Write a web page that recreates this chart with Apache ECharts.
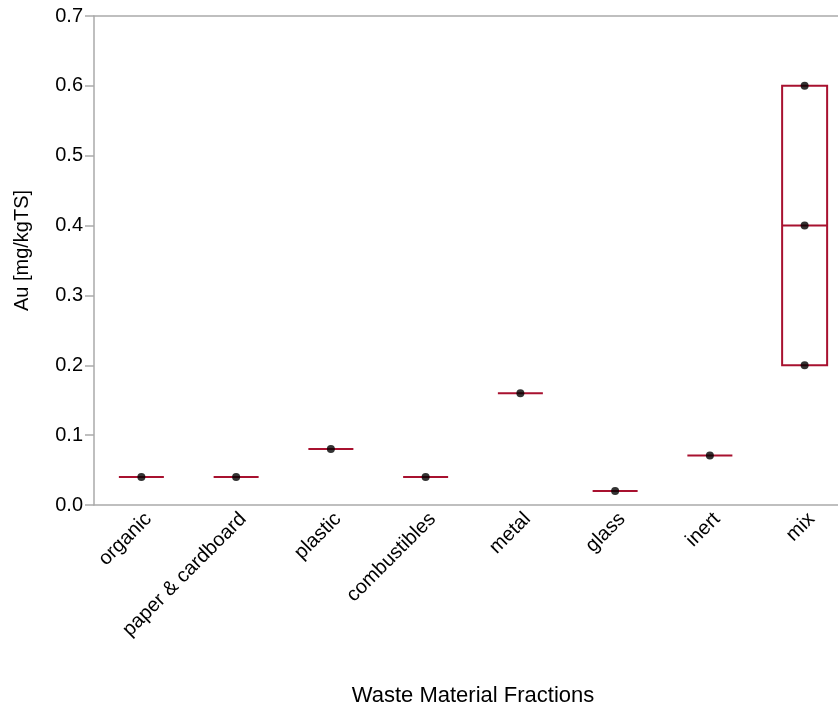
<!DOCTYPE html>
<html>
<head>
<meta charset="utf-8">
<script src="https://cdn.jsdelivr.net/npm/echarts@6/dist/echarts.min.js"></script>
<style>
  html, body { margin: 0; padding: 0; background: #fff; }
  #chart { width: 838px; height: 710px; }
</style>
</head>
<body>
<div id="chart"></div>
<script>
// categories and measured values (mg/kgTS)
const categories = ['organic', 'paper & cardboard', 'plastic', 'combustibles', 'metal', 'glass', 'inert', 'mix'];
const samples = [
  [0.04],
  [0.04],
  [0.08],
  [0.04],
  [0.16],
  [0.02],
  [0.071],
  [0.2, 0.4, 0.6]
];
// box stats: min, q1, median, q3, max
const boxStats = [
  [0.04, 0.04, 0.04, 0.04, 0.04],
  [0.04, 0.04, 0.04, 0.04, 0.04],
  [0.08, 0.08, 0.08, 0.08, 0.08],
  [0.04, 0.04, 0.04, 0.04, 0.04],
  [0.16, 0.16, 0.16, 0.16, 0.16],
  [0.02, 0.02, 0.02, 0.02, 0.02],
  [0.071, 0.071, 0.071, 0.071, 0.071],
  [0.2, 0.2, 0.4, 0.6, 0.6]
];

const boxColor = '#a8112f';
const axisGray = '#aaaaaa';
const fontFam = "'Liberation Sans', Arial, sans-serif";

let points = [];
samples.forEach(function (vals, i) {
  vals.forEach(function (v) { points.push([i, v]); });
});

let myChart = echarts.init(document.getElementById('chart'));
myChart.setOption({
  animation: false,
  // plot area runs a little past the right edge, like the original
  grid: { left: 94, right: -14, top: 16, bottom: 205, outerBoundsMode: 'none', containLabel: false },
  xAxis: [{
    type: 'category',
    data: categories,
    name: 'Waste Material Fractions',
    nameLocation: 'middle',
    nameGap: 180,
    nameTextStyle: { fontSize: 22, color: '#000', fontFamily: fontFam },
    axisLine: { lineStyle: { color: axisGray, width: 1.5 } },
    axisTick: { show: false },
    axisLabel: {
      rotate: 45, fontSize: 20, color: '#000', fontFamily: fontFam,
      margin: 4, interval: 0, verticalAlign: 'top'
    },
    splitLine: { show: false }
  }, {
    type: 'category',
    data: categories,
    position: 'top',
    axisLine: { lineStyle: { color: axisGray, width: 1.5 } },
    axisTick: { show: false },
    axisLabel: { show: false }
  }],
  yAxis: {
    type: 'value',
    min: 0,
    max: 0.7,
    interval: 0.1,
    name: 'Au [mg/kgTS]',
    nameLocation: 'middle',
    nameGap: 62,
    nameTextStyle: { fontSize: 20, color: '#000', fontFamily: fontFam, padding: [0, 0, 0, 20] },
    axisLine: { show: true, lineStyle: { color: axisGray, width: 1.5 } },
    axisTick: { show: true, length: 9, lineStyle: { color: axisGray, width: 1.5 } },
    axisLabel: {
      fontSize: 20, color: '#000', fontFamily: fontFam, margin: 11,
      formatter: function (v) { return v.toFixed(1); }
    },
    splitLine: { show: false }
  },
  series: [{
    type: 'boxplot',
    data: boxStats,
    boxWidth: [45, 45],
    itemStyle: { color: '#fff', borderColor: boxColor, borderWidth: 2 },
    z: 2
  }, {
    type: 'scatter',
    data: points,
    symbolSize: 8,
    itemStyle: { color: '#000' },
    z: 3
  }]
});
</script>
</body>
</html>
